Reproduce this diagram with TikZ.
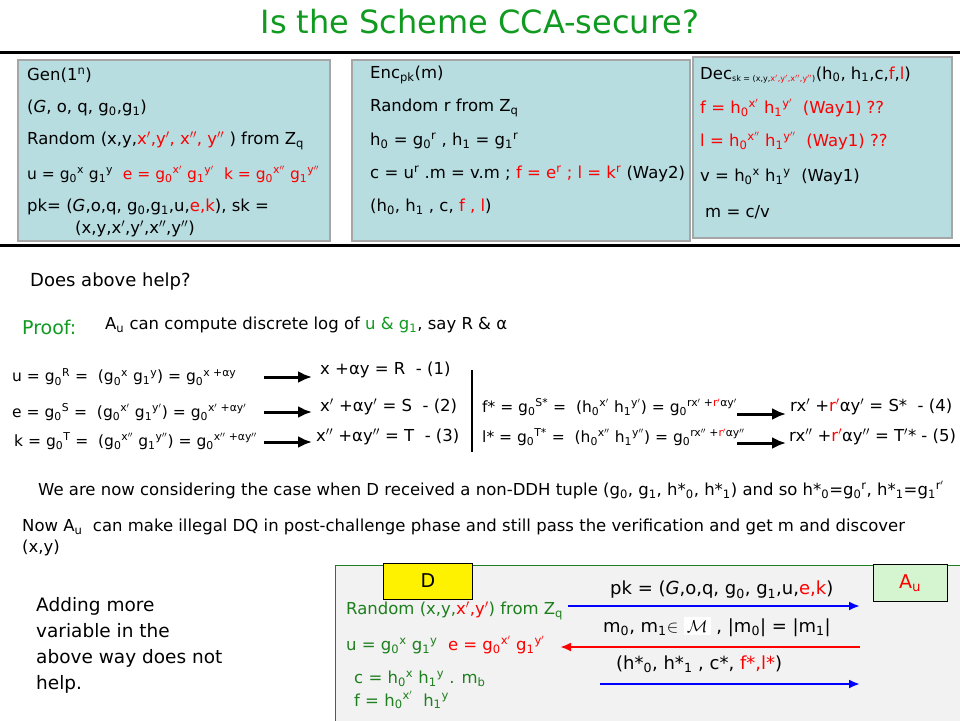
\documentclass[tikz,border=0pt]{standalone}
\usepackage{fontspec}
\setmainfont{DejaVu Sans}
\usepackage{xcolor}
\usetikzlibrary{positioning,arrows.meta}
\definecolor{boxblue}{HTML}{B7DDE1}
\definecolor{slidegreen}{HTML}{109A20}
\definecolor{dgreen}{HTML}{1E7F1E}
\definecolor{paleg}{HTML}{F2F2F2}
\definecolor{augreen}{HTML}{D4F5CF}
\newcommand\lo[1]{\textsubscript{#1}}
\newcommand\hi[1]{\textsuperscript{#1}}
\newcommand\rd[1]{\textcolor{red}{#1}}
\tikzset{
  txt/.style={anchor=west, inner sep=0pt, font=\fontsize{16.5}{18}\selectfont},
  boxtxt/.style={txt, font=\fontsize{16.5}{18}\selectfont},
  eqtxt/.style={txt, font=\fontsize{15.5}{17}\selectfont},
  keybox/.style={draw=gray!70, line width=1.5pt, fill=boxblue},
  bigarrow/.style={-{Latex[length=14pt,width=12pt]}, line width=3pt},
  msgarrow/.style={-{Latex[length=11pt,width=9pt]}, line width=2.5pt}
}
\begin{document}
\begin{tikzpicture}[x=1pt, y=-1pt]
\useasboundingbox (0,0) rectangle (960,720);
\node[font=\fontsize{32}{36}\selectfont, text=slidegreen] (title) at (480,22) {Is the Scheme CCA-secure?};
\draw[line width=3pt] (0,52) -- (960,52);
\draw[line width=3pt] (0,245) -- (960,245);

% the three algorithms
\draw[keybox] (18,60) rectangle (330,241);
\draw[keybox] (352,60) rectangle (690,241);
\draw[keybox] (693,57) rectangle (952,238);
\node[boxtxt] (gen) at (27,75) {Gen(1\hi{n})};
\node[boxtxt] (grp) at (27,108) {(\textit{G}, o, q, g\lo{0},g\lo{1})};
\node[boxtxt] (rnd) at (27,141) {Random (x,y,\rd{x$'$,y$'$, x$''$, y$''$} ) from Z\lo{q}};
\node[eqtxt] (ukeys) at (27,174) {u = g\lo{0}\hi{x} g\lo{1}\hi{y} \ \rd{e = g\lo{0}\hi{x$'$} g\lo{1}\hi{y$'$} \ k = g\lo{0}\hi{x$''$} g\lo{1}\hi{y$''$}}};
\node[boxtxt] (pk) at (27,207) {pk= (\textit{G},o,q, g\lo{0},g\lo{1},u,\rd{e,k}), sk =};
\node[boxtxt] (sk) at (75,229) {(x,y,x$'$,y$'$,x$''$,y$''$)};
\node[boxtxt] (enc) at (370,75) {Enc\lo{pk}(m)};
\node[boxtxt] (rr) at (370,108) {Random r from Z\lo{q}};
\node[boxtxt] (hh) at (370,141) {h\lo{0} = g\lo{0}\hi{r} , h\lo{1} = g\lo{1}\hi{r}};
\node[boxtxt] (cc) at (370,174) {c = u\hi{r} .m = v.m ; \rd{f = e\hi{r} ; l = k\hi{r}} (Way2)};
\node[boxtxt] (ct) at (370,207) {(h\lo{0}, h\lo{1} , c, \rd{f , l})};
\node[boxtxt] (dec) at (700,75) {Dec\lo{\fontsize{8}{9}\selectfont sk = (x,y,\rd{x$'$,y$'$,x$''$,y$''$})}(h\lo{0}, h\lo{1},c,\rd{f},\rd{l})};
\node[boxtxt, text=red] (ff) at (700,108) {f = h\lo{0}\hi{x$'$} h\lo{1}\hi{y$'$} \ (Way1) ??};
\node[boxtxt, text=red] (ll) at (700,141) {l = h\lo{0}\hi{x$''$} h\lo{1}\hi{y$''$} \ (Way1) ??};
\node[boxtxt] (vv) at (700,177) {v = h\lo{0}\hi{x} h\lo{1}\hi{y} \ (Way1)};
\node[boxtxt] (mm) at (705,212) {m = c/v};

% proof
\node[txt, font=\fontsize{18}{20}\selectfont] (help) at (30,282) {Does above help?};
\node[txt, font=\fontsize{19}{21}\selectfont, text=slidegreen] (proof) at (22,327) {Proof:};
\node[txt] (dlog) at (105,325) {A\lo{u} can compute discrete log of \textcolor{slidegreen}{u \& g\lo{1}}, say R \& α};
\node[eqtxt] (equ) at (12,377) {u = g\lo{0}\hi{R} = \ (g\lo{0}\hi{x} g\lo{1}\hi{y}) = g\lo{0}\hi{x +αy}};
\node[eqtxt] (eqe) at (12,412) {e = g\lo{0}\hi{S} = \ (g\lo{0}\hi{x$'$} g\lo{1}\hi{y$'$}) = g\lo{0}\hi{x$'$ +αy$'$}};
\node[eqtxt] (eqk) at (14,441) {k = g\lo{0}\hi{T} = \ (g\lo{0}\hi{x$''$} g\lo{1}\hi{y$''$}) = g\lo{0}\hi{x$''$ +αy$''$}};
\node[txt] (r1) at (320,370) {x +αy = R \ - (1)};
\node[txt] (r2) at (320,407) {x$'$ +αy$'$ = S \ - (2)};
\node[txt] (r3) at (316,437) {x$''$ +αy$''$ = T \ - (3)};
\draw[bigarrow] (264,377) -- (312,377);
\draw[bigarrow] (264,412) -- (312,412);
\draw[bigarrow] (264,442) -- (312,442);
\draw[line width=2pt] (472,370) -- (472,452);
\node[eqtxt] (fs) at (482,407) {f* = g\lo{0}\hi{S*} = \ (h\lo{0}\hi{x$'$} h\lo{1}\hi{y$'$}) = g\lo{0}\hi{rx$'$ +\rd{r$'$}αy$'$}};
\node[eqtxt] (ls) at (482,437) {l* = g\lo{0}\hi{T*} = \ (h\lo{0}\hi{x$''$} h\lo{1}\hi{y$''$}) = g\lo{0}\hi{rx$''$ +\rd{r$'$}αy$''$}};
\draw[bigarrow] (737,414) -- (786,414);
\draw[bigarrow] (737,443) -- (786,443);
\node[txt] (r4) at (790,407) {rx$'$ +\rd{r$'$}αy$'$ = S* \ - (4)};
\node[txt] (r5) at (789,437) {rx$''$ +\rd{r$'$}αy$''$ = T$'$* - (5)};
\node[txt] (case) at (38,490) {We are now considering the case when D received a non-DDH tuple (g\lo{0}, g\lo{1}, h*\lo{0}, h*\lo{1}) and so h*\lo{0}=g\lo{0}\hi{r}, h*\lo{1}=g\lo{1}\hi{r$'$}};
\node[txt] (now) at (22,527) {Now A\lo{u} \ can make illegal DQ in post-challenge phase and still pass the verification and get m and discover};
\node[txt] (xy) at (22,548) {(x,y)};

% the game
\draw[draw=dgreen, fill=paleg] (335,565) rectangle (961,721);
\node[txt, font=\fontsize{18.5}{26}\selectfont, align=left] (adding) at (36,645) {Adding more\\variable in the\\above way does not\\help.};
\node[draw, fill=yellow, minimum width=89pt, minimum height=36pt, font=\fontsize{19}{21}\selectfont] (dbox) at (428,581) {D};
\node[draw, fill=augreen, minimum width=74pt, minimum height=37pt, font=\fontsize{19}{21}\selectfont, text=red] (aubox) at (910,583) {A\lo{u}};
\node[txt, text=dgreen] (drnd) at (346,611) {Random (x,y,\rd{x$'$,y$'$}) from Z\lo{q}};
\node[txt, text=dgreen] (due) at (346,645) {u = g\lo{0}\hi{x} g\lo{1}\hi{y} \ \rd{e = g\lo{0}\hi{x$'$} g\lo{1}\hi{y$'$}}};
\node[txt, text=dgreen] (dc) at (354,679) {c = h\lo{0}\hi{x} h\lo{1}\hi{y} . m\lo{b}};
\node[txt, text=dgreen] (df) at (354,700) {f = h\lo{0}\hi{x$'$} \ h\lo{1}\hi{y}};
\coordinate (s1) at (568,606);
\coordinate (t1) at (860,606);
\coordinate (s2) at (860,647);
\coordinate (t2) at (560,647);
\coordinate (s3) at (600,684);
\coordinate (t3) at (860,684);
\draw[msgarrow, blue] (s1) -- (t1);
\draw[msgarrow, red] (s2) -- (t2);
\draw[msgarrow, blue] (s3) -- (t3);
\node[txt, font=\fontsize{18}{20}\selectfont] (mpk) at (610,590) {pk = (\textit{G},o,q, g\lo{0}, g\lo{1},u,\rd{e,k})};
\node[txt, font=\fontsize{18}{20}\selectfont] (mm01) at (603,627) {m\lo{0}, m\lo{1}$\in$ \colorbox{white}{$\mathcal{M}$} , |m\lo{0}| = |m\lo{1}|};
\node[txt, font=\fontsize{18}{20}\selectfont] (mch) at (616,664) {(h*\lo{0}, h*\lo{1} , c*, \rd{f*,l*})};
\end{tikzpicture}
\end{document}
